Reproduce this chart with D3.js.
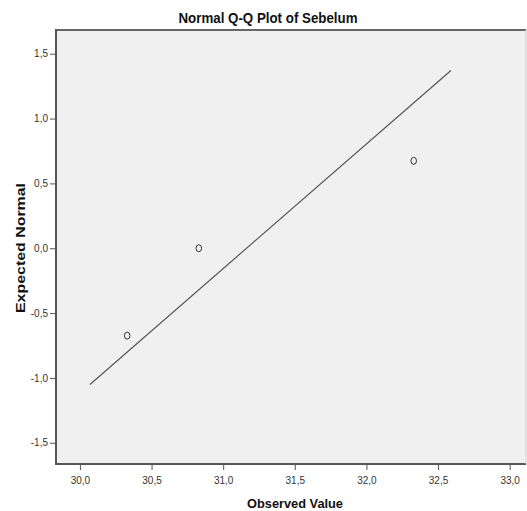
<!DOCTYPE html>
<html>
<head>
<meta charset="utf-8">
<script src="https://cdn.jsdelivr.net/npm/d3@7"></script>
<style>
  body { margin: 0; background: #fff; }
  svg { display: block; }
  .tick text { font-family: "Liberation Sans Narrow", "Arial Narrow", "Liberation Sans", sans-serif; font-size: 10px; fill: #333; }
  .lbl { font-family: "Liberation Sans Narrow", "Arial Narrow", "Liberation Sans", sans-serif; font-weight: bold; fill: #111; }
</style>
</head>
<body>
<svg width="527" height="511"></svg>
<script>
// observed values and their expected normal scores
const observed = [30.33, 30.83, 32.33];
const expected = [-0.674, 0.0, 0.674];
// reference line end points (observed value range of the line)
const lineX = [30.07, 32.59];
const xTicks = [30.0, 30.5, 31.0, 31.5, 32.0, 32.5, 33.0];
const yTicks = [-1.5, -1.0, -0.5, 0.0, 0.5, 1.0, 1.5];

const svg = d3.select('svg');
const plotL = 56, plotR = 526, plotT = 30, plotB = 464;

const x = d3.scaleLinear().domain([29.833, 33.114]).range([plotL, plotR]);
const y = d3.scaleLinear().domain([-1.664, 1.683]).range([plotB, plotT]);

const fmt = (d) => d3.format('.1f')(d).replace('.', ',').replace('−', '-');

// plot background
svg.append('rect')
  .attr('x', plotL).attr('y', plotT)
  .attr('width', plotR - plotL).attr('height', plotB - plotT)
  .attr('fill', '#f0f0f0');

// axes
const gx = svg.append('g')
  .attr('transform', 'translate(0,' + plotB + ')')
  .call(d3.axisBottom(x).tickValues(xTicks).tickFormat(fmt).tickSize(6).tickPadding(7));
const gy = svg.append('g')
  .attr('transform', 'translate(' + plotL + ',0)')
  .call(d3.axisLeft(y).tickValues(yTicks).tickFormat(fmt).tickSize(6).tickPadding(2));
[gx, gy].forEach((g) => {
  g.select('.domain').remove();
  g.selectAll('.tick line').attr('stroke', '#555');
});

// frame
svg.append('line').attr('x1', plotL).attr('x2', plotR).attr('y1', plotT).attr('y2', plotT)
  .attr('stroke', '#666').attr('stroke-width', 2);
svg.append('line').attr('x1', plotL).attr('x2', plotR).attr('y1', plotB).attr('y2', plotB)
  .attr('stroke', '#555').attr('stroke-width', 2);
svg.append('line').attr('x1', plotL).attr('x2', plotL).attr('y1', plotT - 1).attr('y2', plotB + 1)
  .attr('stroke', '#555').attr('stroke-width', 2);
svg.append('line').attr('x1', plotR).attr('x2', plotR).attr('y1', plotT).attr('y2', plotB)
  .attr('stroke', '#ccc').attr('stroke-width', 1);

// reference line: z = (x - mean) / sd
const mean = d3.mean(observed);
const sd = d3.deviation(observed);
const line = d3.line()
  .x((d) => x(d))
  .y((d) => y((d - mean) / sd));
svg.append('path')
  .datum(lineX)
  .attr('d', line)
  .attr('fill', 'none')
  .attr('stroke', '#555')
  .attr('stroke-width', 1.2);

// points
svg.selectAll('ellipse.pt')
  .data(observed)
  .enter()
  .append('ellipse')
  .classed('pt', true)
  .attr('cx', (d) => x(d))
  .attr('cy', (d, i) => y(expected[i]))
  .attr('rx', 2.8).attr('ry', 3.5)
  .attr('fill', 'none')
  .attr('stroke', '#333')
  .attr('stroke-width', 1);

// titles
svg.append('text').classed('lbl', true)
  .attr('x', 268).attr('y', 23)
  .attr('text-anchor', 'middle')
  .attr('font-size', 14)
  .attr('textLength', 179).attr('lengthAdjust', 'spacingAndGlyphs')
  .text('Normal Q-Q Plot of Sebelum');
svg.append('text').classed('lbl', true)
  .attr('x', 295).attr('y', 508)
  .attr('text-anchor', 'middle')
  .attr('font-size', 13)
  .attr('textLength', 96).attr('lengthAdjust', 'spacingAndGlyphs')
  .text('Observed Value');
svg.append('text').classed('lbl', true)
  .attr('transform', 'translate(25,248) rotate(-90)')
  .attr('text-anchor', 'middle')
  .attr('font-size', 13)
  .attr('textLength', 130).attr('lengthAdjust', 'spacingAndGlyphs')
  .text('Expected Normal');
</script>
</body>
</html>
